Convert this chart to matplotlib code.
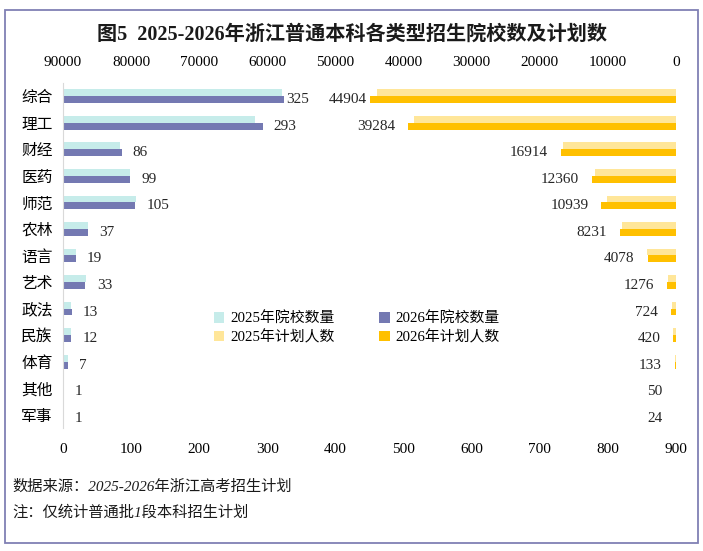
import matplotlib
matplotlib.use("Agg")
import matplotlib.pyplot as plt
from matplotlib.patches import Rectangle

plt.rcParams['font.family'] = ['Liberation Serif', 'Noto Sans CJK SC']

categories = ['综合', '理工', '财经', '医药', '师范', '农林', '语言', '艺术', '政法', '民族', '体育', '其他', '军事']
schools_2025 = [321, 282, 84, 98, 107, 36, 19, 34, 12, 12, 7, 1, 1]
schools_2026 = [325, 293, 86, 99, 105, 37, 19, 33, 13, 12, 7, 1, 1]
plan_2025 = [43950, 38500, 16600, 11900, 10200, 7900, 4200, 1200, 650, 400, 150, 40, 20]
plan_2026 = [44904, 39284, 16914, 12360, 10939, 8231, 4078, 1276, 724, 420, 133, 50, 24]
school_ticks = [0, 100, 200, 300, 400, 500, 600, 700, 800, 900]
plan_ticks = [90000, 80000, 70000, 60000, 50000, 40000, 30000, 20000, 10000, 0]

c_s25 = '#C6ECEA'
c_s26 = '#7479B2'
c_p25 = '#FFE699'
c_p26 = '#FFC000'

fig = plt.figure(figsize=(7.03, 5.51), dpi=100)
fig.patch.set_facecolor('white')
fig.add_artist(Rectangle((5/703, 1-543/551), 693/703, 533/551, transform=fig.transFigure,
                         fill=False, edgecolor='#8080B4', linewidth=1.3))

ax = fig.add_axes([63/703, 1-428/551, 613/703, 345/551])
ax2 = ax.twiny()

y = list(range(len(categories)))
h = 0.26
y25 = [v - h/2 for v in y]
y26 = [v + h/2 for v in y]

b1 = ax.barh(y25, schools_2025, height=h, color=c_s25, label='2025年院校数量')
b2 = ax.barh(y26, schools_2026, height=h, color=c_s26, label='2026年院校数量')
b3 = ax2.barh(y25, plan_2025, height=h, color=c_p25, label='2025年计划人数')
b4 = ax2.barh(y26, plan_2026, height=h, color=c_p26, label='2026年计划人数')

ax.set_xlim(0, 900)
ax2.set_xlim(90000, 0)
ax.set_ylim(len(categories) - 0.5, -0.5)

ax.set_yticks(y)
ax.set_yticklabels(categories, fontsize=11.3)
ax.set_xticks(school_ticks)
ax.set_xticklabels([str(t) for t in school_ticks], fontsize=11)
ax2.set_xticks(plan_ticks)
ax2.set_xticklabels([str(t) for t in plan_ticks], fontsize=11)

ax.tick_params(axis='y', length=0, pad=7.5)
ax.tick_params(axis='x', length=0, pad=11)
ax2.tick_params(axis='x', length=0, pad=10)

for a in (ax, ax2):
    for s in a.spines.values():
        s.set_visible(False)
ax.spines['left'].set_visible(True)
ax.spines['left'].set_color('#D9D9D9')

for i, v in enumerate(schools_2026):
    off = 2 if i == 0 else 11
    ax.annotate(str(v), xy=(max(v, schools_2025[i]) if i else v, y26[i]), xytext=(off, 0),
                textcoords='offset pixels', ha='left', va='center', fontsize=11, color='#262626')
for i, v in enumerate(plan_2026):
    off = 3 if i == 0 else 13
    ax2.annotate(str(v), xy=(max(v, plan_2025[i]), y26[i]), xytext=(-off, 0),
                 textcoords='offset pixels', ha='right', va='center', fontsize=11, color='#262626')

handles = [b1, b3, b2, b4]
labels = [hd.get_label() for hd in handles]
fig.legend(handles, labels, ncol=2, loc='center', bbox_to_anchor=(357/703, 1-328/551),
           frameon=False, fontsize=10.7, handlelength=0.7, handleheight=0.7,
           handletextpad=0.4, columnspacing=3.0, labelspacing=0.3)

fig.text(352/703, 1-35/551, '图5  2025-2026年浙江普通本科各类型招生院校数及计划数',
         ha='center', va='center', fontsize=14.5, fontweight='bold', color='#1a1a1a')
fig.text(12/703, 1-487/551, '数据来源：2025-2026年浙江高考招生计划', ha='left', va='center',
         fontsize=11, fontstyle='italic', color='#1a1a1a')
fig.text(12/703, 1-512/551, '注：仅统计普通批1段本科招生计划', ha='left', va='center',
         fontsize=11, fontstyle='italic', color='#1a1a1a')

fig.savefig('out.png', dpi=100)
